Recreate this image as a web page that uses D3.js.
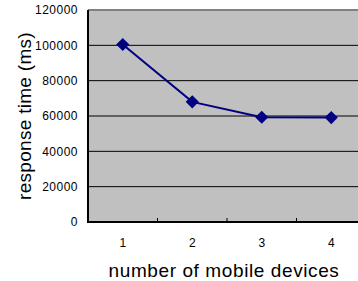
<!DOCTYPE html>
<html lang="en">
<head>
<meta charset="UTF-8">
<title>Response time</title>
<script src="https://cdn.jsdelivr.net/npm/d3@7"></script>
<style>
	body { margin: 0; background: #fff; }
	svg text { font-family: "Liberation Sans", Arial, sans-serif; fill: #000; }
</style>
</head>
<body>
<div id="viz"></div>
<script>
var devices = [1, 2, 3, 4];
var responseTimes = [100500, 68000, 59300, 59100];
var yTicks = [0, 20000, 40000, 60000, 80000, 100000, 120000];

var margin = {top: 10, left: 88, bottom: 59, right: -8};
var width = 358 - margin.left - margin.right;
var height = 281 - margin.top - margin.bottom;

var svg = d3.select('#viz').append('svg')
	.attr('width', 358)
	.attr('height', 281);

var g = svg.append('g')
	.attr('transform', 'translate(' + margin.left + ',' + margin.top + ')');

var x = d3.scaleBand().domain(devices).range([0, width]);
var y = d3.scaleLinear().domain([0, 120000]).range([height, 0]);

// plot background
g.append('rect')
	.attr('width', width)
	.attr('height', height)
	.attr('fill', '#c0c0c0');

// gridlines
g.selectAll('.grid')
	.data(yTicks.slice(1, -1))
	.enter().append('line')
	.attr('x1', 0).attr('x2', width)
	.attr('y1', function (d) { return y(d); })
	.attr('y2', function (d) { return y(d); })
	.attr('stroke', '#000')
	.attr('stroke-width', 1);

// top border
g.append('line')
	.attr('x1', 0).attr('x2', width)
	.attr('y1', 0).attr('y2', 0)
	.attr('stroke', '#808080')
	.attr('stroke-width', 2);

// y axis
var yAxis = d3.axisLeft(y).tickValues(yTicks).tickSize(0).tickPadding(10).tickFormat(d3.format('d'));
var gy = g.append('g').call(yAxis);
gy.select('.domain').remove();
gy.selectAll('text').style('font-size', '12px').style('letter-spacing', '0.5px');

// x axis
var xAxis = d3.axisBottom(x).tickSize(0).tickPadding(16);
var gx = g.append('g')
	.attr('transform', 'translate(0,' + height + ')')
	.call(xAxis);
gx.select('.domain').remove();
gx.selectAll('text').style('font-size', '12px');

// tick marks between categories
g.selectAll('.xtick')
	.data(devices.slice(1))
	.enter().append('line')
	.attr('x1', function (d) { return x(d); })
	.attr('x2', function (d) { return x(d); })
	.attr('y1', height - 4).attr('y2', height)
	.attr('stroke', '#000');

// axis lines
g.append('line')
	.attr('x1', 0).attr('x2', 0)
	.attr('y1', 0).attr('y2', height)
	.attr('stroke', '#000').attr('stroke-width', 2);
g.append('line')
	.attr('x1', -1).attr('x2', width)
	.attr('y1', height).attr('y2', height)
	.attr('stroke', '#000').attr('stroke-width', 2);

var line = d3.line()
	.x(function (d, i) { return x(devices[i]) + x.bandwidth() / 2; })
	.y(function (d) { return y(d); });

g.append('path')
	.datum(responseTimes)
	.attr('d', line)
	.attr('fill', 'none')
	.attr('stroke', '#000080')
	.attr('stroke-width', 2);

g.selectAll('.pt')
	.data(responseTimes)
	.enter().append('path')
	.attr('d', d3.symbol().type(d3.symbolDiamond2).size(110))
	.attr('transform', function (d, i) {
		return 'translate(' + (x(devices[i]) + x.bandwidth() / 2) + ',' + y(d) + ')';
	})
	.attr('fill', '#000080');

// axis titles
svg.append('text')
	.attr('x', 224)
	.attr('y', 277)
	.attr('text-anchor', 'middle')
	.style('font-size', '19px')
	.style('letter-spacing', '0.6px')
	.text('number of mobile devices');

svg.append('text')
	.attr('transform', 'translate(31,116) rotate(-90)')
	.attr('text-anchor', 'middle')
	.style('font-size', '19px')
	.style('letter-spacing', '0.3px')
	.text('response time (ms)');
</script>
</body>
</html>
